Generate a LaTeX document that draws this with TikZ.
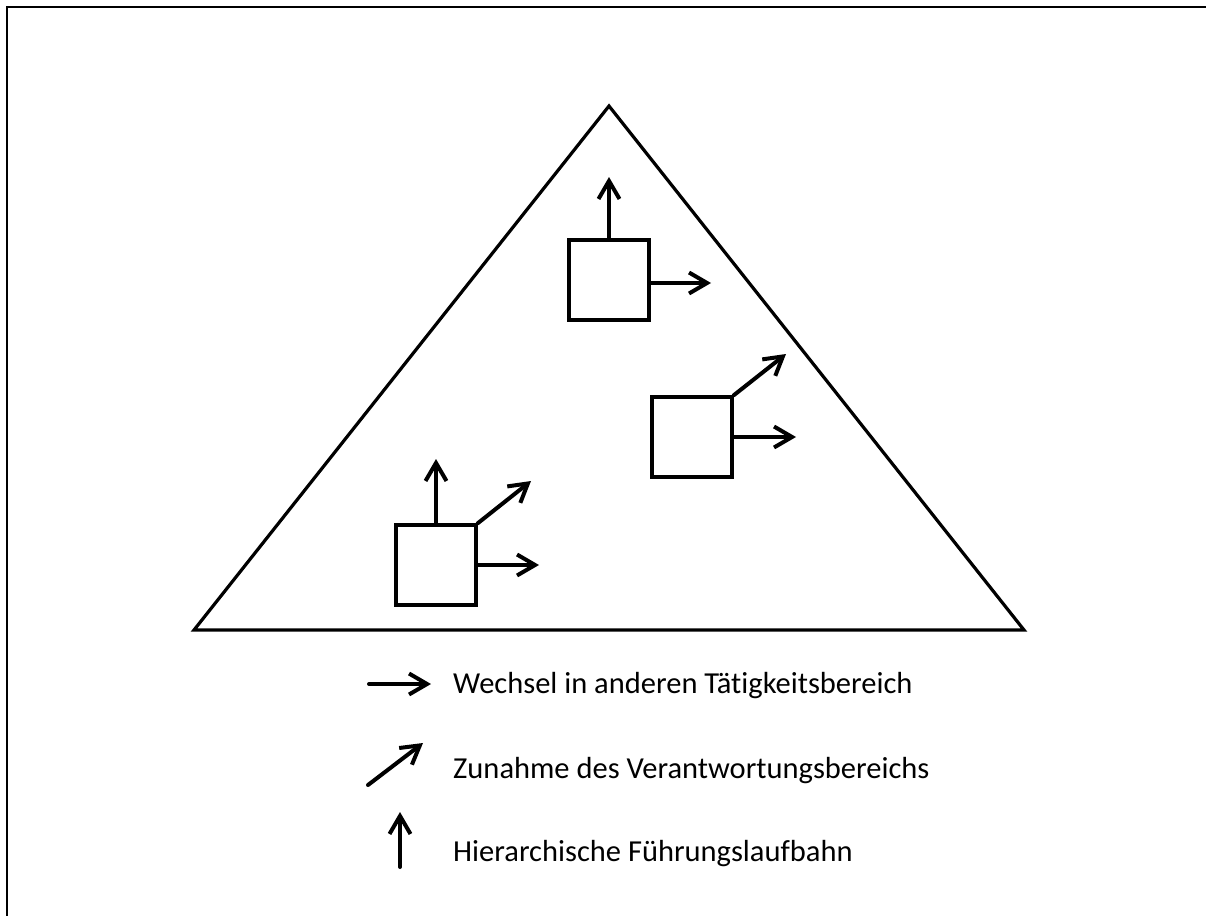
\documentclass[tikz,border=0pt]{standalone}
\usepackage{fontspec}
\setmainfont{Carlito}[RawFeature=-liga]
\usetikzlibrary{arrows.meta}
\begin{document}
\begin{tikzpicture}[x=1pt,y=-1pt,
  frameline/.style={line width=2.2pt},
  pyramid/.style={line width=3.2pt,line join=miter},
  posbox/.style={draw,rectangle,line width=3.5pt,minimum width=80pt,minimum height=80pt,inner sep=0pt},
  move/.style={line width=4pt,line cap=round,-{Straight Barb[length=18pt,width=21pt,line width=4pt]}},
  legendtext/.style={anchor=base west,inner sep=0pt,font=\fontsize{30.5}{34}\selectfont}]
  \useasboundingbox (0,0) rectangle (1206,915);
  % open frame: top and left edges only
  \draw[frameline] (7,925) -- (7,7) -- (1216,7);
  % hierarchy pyramid
  \coordinate (apex) at (609,106);
  \coordinate (bl) at (194,630);
  \coordinate (br) at (1024,630);
  \draw[pyramid] (apex) -- (bl) -- (br) -- cycle;
  % positions with their possible moves
  \node[posbox] (p1) at (436,565) {};
  \coordinate (p1up) at (436,459);
  \coordinate (p1diag) at (531,481);
  \coordinate (p1right) at (539,565);
  \draw[move] (p1.north) -- (p1up);
  \draw[move] (p1.north east) -- (p1diag);
  \draw[move] (p1.east) -- (p1right);
  \node[posbox] (p2) at (609,280) {};
  \coordinate (p2up) at (609,177);
  \coordinate (p2right) at (711,283);
  \draw[move] (p2.north) -- (p2up);
  \draw[move] (p2.east |- p2right) -- (p2right);
  \node[posbox] (p3) at (692,437) {};
  \coordinate (p3diag) at (786,354);
  \coordinate (p3right) at (796,437);
  \draw[move] (p3.north east) -- (p3diag);
  \draw[move] (p3.east) -- (p3right);
  % legend
  \coordinate (l1a) at (369,684);
  \coordinate (l1b) at (431,684);
  \coordinate (l2a) at (368,785);
  \coordinate (l2b) at (423,743);
  \coordinate (l3a) at (400,867);
  \coordinate (l3b) at (400,812);
  \draw[move] (l1a) -- (l1b);
  \draw[move] (l2a) -- (l2b);
  \draw[move] (l3a) -- (l3b);
  \node[legendtext] (t1) at (453,693) {Wechsel in anderen Tätigkeitsbereich};
  \node[legendtext] (t2) at (453,778) {Zunahme des Verantwortungsbereichs};
  \node[legendtext] (t3) at (453,861) {Hierarchische Führungslaufbahn};
\end{tikzpicture}
\end{document}
